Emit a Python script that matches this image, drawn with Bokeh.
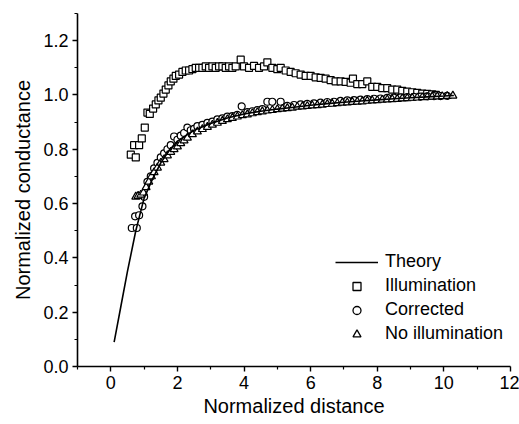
from bokeh.plotting import figure
from bokeh.models import Range1d, FixedTicker, LegendItem, Legend, NumeralTickFormatter
from bokeh.embed import file_html
from bokeh.resources import INLINE

# Theory curve
theory_x = [0.1, 0.3, 0.5, 0.75, 1.0, 1.25, 1.5, 1.75, 2.0, 2.5, 3.0, 3.5, 4.0, 4.5, 5.0, 5.5,
            6.0, 6.5, 7.0, 7.5, 8.0, 8.5, 9.0, 9.5, 10.0, 10.3]
theory_y = [0.09, 0.22, 0.35, 0.5, 0.62, 0.69, 0.75, 0.795, 0.83, 0.87, 0.895, 0.915, 0.93, 0.94,
            0.948, 0.955, 0.962, 0.968, 0.973, 0.978, 0.982, 0.986, 0.99, 0.993, 0.996, 0.998]

# Illumination (squares)
illum_x = [0.6, 0.7, 0.75, 0.85, 0.93, 1.02, 1.1, 1.17, 1.27, 1.35, 1.43, 1.5, 1.58, 1.65, 1.73, 1.8,
           1.88, 1.95, 2.05, 2.15, 2.25, 2.35, 2.45, 2.55, 2.65, 2.75, 2.85, 2.95, 3.05, 3.15, 3.25,
           3.35, 3.45, 3.55, 3.65, 3.75, 3.9, 4.0, 4.15, 4.3, 4.45, 4.6, 4.7, 4.85, 5.0, 5.1, 5.25,
           5.4, 5.55, 5.7, 5.85, 6.0, 6.15, 6.3, 6.45, 6.6, 6.75, 6.9, 7.05, 7.2, 7.27, 7.4, 7.55,
           7.7, 7.85, 8.0, 8.15, 8.3, 8.45, 8.6, 8.75, 8.9, 9.05, 9.2, 9.35, 9.5, 9.65, 9.76]
illum_y = [0.78, 0.815, 0.77, 0.815, 0.84, 0.88, 0.935, 0.93, 0.95, 0.965, 0.98, 0.99, 1.005, 1.02,
           1.035, 1.05, 1.06, 1.07, 1.075, 1.085, 1.09, 1.09, 1.095, 1.1, 1.1, 1.1, 1.105, 1.1, 1.105,
           1.1, 1.105, 1.105, 1.1, 1.105, 1.1, 1.105, 1.13, 1.105, 1.1, 1.107, 1.1, 1.105, 1.12, 1.1,
           1.095, 1.1, 1.09, 1.085, 1.08, 1.075, 1.07, 1.07, 1.065, 1.063, 1.06, 1.055, 1.05, 1.05,
           1.048, 1.045, 1.06, 1.04, 1.04, 1.05, 1.03, 1.03, 1.025, 1.025, 1.02, 1.02, 1.015, 1.012,
           1.01, 1.008, 1.005, 1.004, 1.002, 1.0]

# Corrected (circles)
corr_x = [0.63, 0.73, 0.78, 0.85, 0.95, 1.0, 1.1, 1.2, 1.3, 1.4, 1.5, 1.6, 1.7, 1.8, 1.9, 2.0, 2.1,
          2.2, 2.3, 2.4, 2.5, 2.6, 2.75, 2.9, 3.05, 3.2, 3.35, 3.5, 3.65, 3.8, 3.93, 4.1, 4.25, 4.4,
          4.55, 4.7, 4.85, 5.1, 5.3, 5.5, 5.7, 5.9, 6.1, 6.3, 6.5, 6.7, 6.9, 7.1, 7.3, 7.5, 7.7, 7.9,
          8.1, 8.3, 8.5, 8.7, 8.9, 9.1, 9.3, 9.5, 9.7, 9.9, 10.1]
corr_y = [0.51, 0.553, 0.51, 0.557, 0.59, 0.625, 0.68, 0.7, 0.73, 0.75, 0.77, 0.785, 0.8, 0.815,
          0.847, 0.835, 0.85, 0.86, 0.88, 0.87, 0.875, 0.885, 0.89, 0.897, 0.902, 0.91, 0.914, 0.92,
          0.922, 0.927, 0.958, 0.937, 0.94, 0.944, 0.948, 0.975, 0.975, 0.975, 0.96, 0.963, 0.965,
          0.967, 0.969, 0.972, 0.974, 0.975, 0.978, 0.98, 0.981, 0.983, 0.985, 0.986, 0.987, 0.989,
          0.99, 0.991, 0.992, 0.993, 0.994, 0.995, 0.996, 0.996, 0.997]

# No illumination (triangles)
noill_x = [0.75, 0.82, 0.9, 0.98, 1.06, 1.14, 1.22, 1.3, 1.4, 1.5, 1.6, 1.7, 1.8, 1.9, 2.0, 2.1, 2.2,
           2.3, 2.45, 2.6, 2.75, 2.9, 3.05, 3.2, 3.35, 3.5, 3.65, 3.8, 3.95, 4.1, 4.25, 4.4, 4.55,
           4.7, 4.85, 5.0, 5.15, 5.3, 5.45, 5.6, 5.75, 5.9, 6.05, 6.2, 6.35, 6.5, 6.65, 6.8, 6.95,
           7.1, 7.25, 7.4, 7.55, 7.7, 7.85, 8.0, 8.15, 8.3, 8.45, 8.6, 8.75, 8.9, 9.05, 9.2, 9.35,
           9.5, 9.65, 9.8, 9.95, 10.1, 10.27]
noill_y = [0.625, 0.628, 0.632, 0.64, 0.66, 0.68, 0.7, 0.715, 0.732, 0.75, 0.763, 0.777, 0.79, 0.8,
           0.81, 0.822, 0.832, 0.842, 0.855, 0.865, 0.874, 0.882, 0.89, 0.897, 0.904, 0.91, 0.915,
           0.92, 0.925, 0.928, 0.932, 0.936, 0.939, 0.942, 0.944, 0.947, 0.949, 0.951, 0.953, 0.956,
           0.957, 0.959, 0.961, 0.962, 0.964, 0.966, 0.967, 0.969, 0.971, 0.972, 0.974, 0.975, 0.976,
           0.978, 0.979, 0.98, 0.982, 0.983, 0.984, 0.985, 0.987, 0.988, 0.989, 0.99, 0.991, 0.992,
           0.993, 0.994, 0.995, 0.996, 0.997]

x_ticks = [0, 2, 4, 6, 8, 10, 12]
y_ticks = [0.0, 0.2, 0.4, 0.6, 0.8, 1.0, 1.2]

FONT = "Liberation Sans"

p = figure(width=519, height=424, output_backend="svg", toolbar_location=None,
           x_range=Range1d(-1, 12), y_range=Range1d(0, 1.3))
p.min_border_left = 77
p.min_border_right = 9
p.min_border_top = 13
p.min_border_bottom = 58
p.outline_line_color = None
p.grid.visible = False
p.background_fill_color = "white"
p.border_fill_color = "white"

for ax in (p.xaxis[0], p.yaxis[0]):
    ax.axis_line_width = 1.6
    ax.axis_line_color = "black"
    ax.major_tick_line_color = "black"
    ax.minor_tick_line_color = "black"
    ax.major_tick_line_width = 1.4
    ax.minor_tick_line_width = 1.2
    ax.major_tick_out = 5
    ax.major_tick_in = 0
    ax.minor_tick_out = 3
    ax.minor_tick_in = 0
    ax.major_label_text_font = FONT
    ax.major_label_text_font_size = "18px"
    ax.major_label_text_color = "black"
    ax.axis_label_text_font = FONT
    ax.axis_label_text_font_size = "20px"
    ax.axis_label_text_font_style = "normal"
    ax.axis_label_text_color = "black"
    ax.major_label_standoff = 4

p.xaxis.ticker = FixedTicker(ticks=x_ticks, minor_ticks=[-1, 1, 3, 5, 7, 9, 11])
p.yaxis.ticker = FixedTicker(ticks=y_ticks, minor_ticks=[0.1, 0.3, 0.5, 0.7, 0.9, 1.1, 1.3])
p.yaxis.formatter = NumeralTickFormatter(format="0.0")
p.xaxis.axis_label = "Normalized distance"
p.yaxis.axis_label = "Normalized conductance"
p.xaxis.axis_label_standoff = 3
p.yaxis.axis_label_standoff = 6

sq = p.scatter(illum_x, illum_y, marker="square", size=7, fill_color="white",
               line_color="black", line_width=1.2)
ci = p.scatter(corr_x, corr_y, marker="circle", size=7, fill_color="white",
               line_color="black", line_width=1.2)
tr = p.scatter(noill_x, noill_y, marker="triangle", size=8, fill_color="white",
               line_color="black", line_width=1.2)
ln = p.line(theory_x, theory_y, line_color="black", line_width=1.6)

# smaller symbols used only for the legend (no visible data)
nan = [float("nan")]
sq_l = p.scatter(nan, nan, marker="square", size=5.5, fill_color="white",
                 line_color="black", line_width=1.3)
ci_l = p.scatter(nan, nan, marker="circle", size=5.5, fill_color="white",
                 line_color="black", line_width=1.3)
tr_l = p.scatter(nan, nan, marker="triangle", size=7, fill_color="white",
                 line_color="black", line_width=1.3)

legend = Legend(items=[
    LegendItem(label="Theory", renderers=[ln]),
    LegendItem(label="Illumination", renderers=[sq_l]),
    LegendItem(label="Corrected", renderers=[ci_l]),
    LegendItem(label="No illumination", renderers=[tr_l]),
], location=(258, 22))
legend.border_line_color = None
legend.background_fill_alpha = 0
legend.padding = 0
legend.margin = 0
legend.spacing = 3
legend.glyph_width = 43
legend.glyph_height = 20
legend.label_height = 20
legend.label_standoff = 7
legend.label_text_font = FONT
legend.label_text_font_size = "18px"
legend.label_text_color = "black"
p.add_layout(legend, "center")

open("out.html", "w").write(file_html(p, INLINE))
